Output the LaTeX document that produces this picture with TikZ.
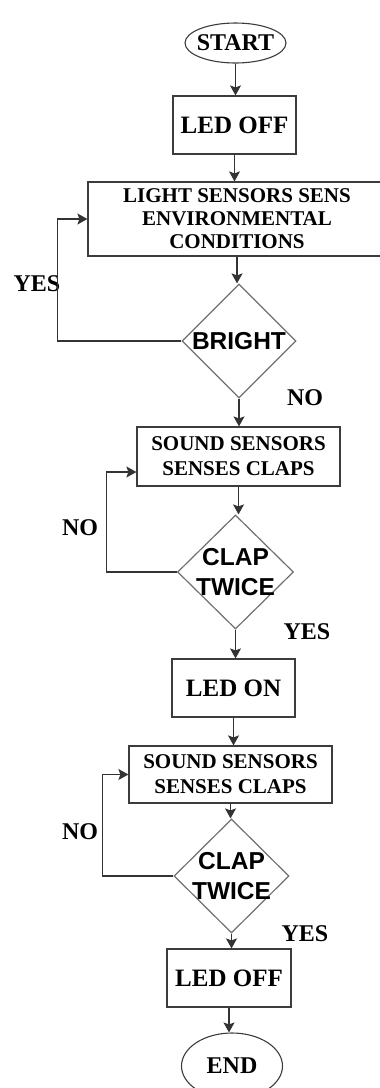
\documentclass[tikz,border=0pt]{standalone}
\usepackage{fontspec}
\setmainfont{Liberation Serif}
\newfontfamily\arialfam{Liberation Sans}
\usetikzlibrary{shapes.geometric,arrows.meta}
\definecolor{boxc}{HTML}{3C3C3C}
\definecolor{diac}{HTML}{707070}
\definecolor{linec}{HTML}{333333}
\begin{document}
\begin{tikzpicture}[x=1pt,y=-1pt,
  boxnode/.style={draw=boxc, line width=1.2pt, rectangle, inner sep=0pt, align=center},
  bigtxt/.style={font=\bfseries\fontsize{25}{28}\selectfont},
  smalltxt/.style={font=\bfseries\fontsize{21}{24}\selectfont},
  ovalnode/.style={draw=boxc, line width=1.1pt, ellipse, inner sep=0pt},
  decnode/.style={draw=diac, line width=1.2pt, diamond, inner sep=0pt},
  dectxt/.style={font=\arialfam\bfseries\fontsize{24.5}{30}\selectfont, align=center},
  lbl/.style={font=\bfseries\fontsize{24}{28}\selectfont, inner sep=0pt},
  flow/.style={draw=linec, line width=1.2pt, -{Stealth[length=10pt,width=11pt,inset=2pt]}},
  plain/.style={draw=linec, line width=1.2pt}
]
\useasboundingbox (0,0) rectangle (380,1088);

\node[ovalnode, minimum width=101pt, minimum height=40pt,
  label={[bigtxt, font=\bfseries\fontsize{24}{28}\selectfont]center:START}] (start) at (235.5,43) {};
\node[boxnode, bigtxt, minimum width=123pt, minimum height=58pt] (led1) at (234.5,125) {LED OFF};
\node[boxnode, smalltxt, minimum width=298pt, minimum height=74pt,
  font=\bfseries\fontsize{21}{23}\selectfont] (light) at (237,219)
  {LIGHT SENSORS SENS\\ENVIRONMENTAL\\CONDITIONS};
\node[decnode, minimum width=114pt, minimum height=114pt,
  label={[dectxt]center:BRIGHT}] (bright) at (239,341) {};
\node[boxnode, smalltxt, minimum width=203pt, minimum height=59pt,
  font=\bfseries\fontsize{21}{25}\selectfont] (snd1) at (238.5,456.5)
  {SOUND SENSORS\\SENSES CLAPS};
\node[decnode, minimum width=116pt, minimum height=114pt,
  label={[dectxt]center:CLAP\\TWICE}] (clap1) at (235.5,572) {};
\node[boxnode, bigtxt, minimum width=123pt, minimum height=58pt] (ledon) at (233.5,688) {LED ON};
\node[boxnode, smalltxt, minimum width=203pt, minimum height=57pt,
  font=\bfseries\fontsize{21}{25}\selectfont] (snd2) at (230.5,774.5)
  {SOUND SENSORS\\SENSES CLAPS};
\node[decnode, minimum width=115pt, minimum height=114pt,
  label={[dectxt]center:CLAP\\TWICE}] (clap2) at (231.5,876) {};
\node[boxnode, bigtxt, minimum width=124pt, minimum height=58pt] (led2) at (229,978) {LED OFF};
\node[ovalnode, minimum width=101pt, minimum height=66pt,
  label={[bigtxt, font=\bfseries\fontsize{24}{28}\selectfont]center:END}] (end) at (232,1066) {};

% labels
\node[lbl] (yes1) at (37,284) {YES};
\node[lbl] (no1) at (305,398) {NO};
\node[lbl] (no2) at (80,528) {NO};
\node[lbl] (yes2) at (307,632) {YES};
\node[lbl] (no3) at (80,832) {NO};
\node[lbl] (yes3) at (305,934) {YES};

% connectors
\draw[flow] (start.south) -- (start.south |- led1.north);
\draw[flow] (led1.south) -- (led1.south |- light.north);
\draw[flow] (light.south) -- (light.south |- bright.north);
\draw[flow] (bright.west) -- ++(-124,0) |- (light.west);
\draw[flow] (bright.south) -- (bright.south |- snd1.north);
\draw[flow] (snd1.south) -- (snd1.south |- clap1.north);
\draw[flow] (clap1.west) -- ++(-70.5,0) |- ([yshift=-15.5pt]snd1.west);
\draw[flow] (clap1.south) -- (clap1.south |- ledon.north);
\draw[flow] (ledon.south) -- (ledon.south |- snd2.north);
\draw[flow] (snd2.south) -- (snd2.south |- clap2.north);
\draw[flow] (clap2.west) -- ++(-71,0) |- (snd2.west);
\draw[flow] (clap2.south) -- (clap2.south |- led2.north);
\draw[flow] (led2.south) -- (led2.south |- end.north);
\end{tikzpicture}
\end{document}
